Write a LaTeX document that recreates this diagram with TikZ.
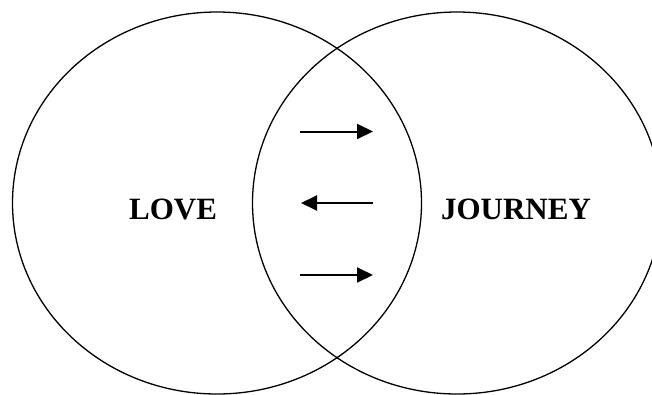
\documentclass[tikz,border=0pt]{standalone}
\usepackage{fontspec}
\setmainfont{Liberation Serif}
\usetikzlibrary{shapes.geometric,arrows.meta}
\tikzset{
  circ/.style={draw, ellipse, line width=1.3pt, minimum width=409pt, minimum height=382pt, inner sep=0pt},
  lbl/.style={font=\fontsize{31}{31}\selectfont\bfseries, inner sep=0pt},
  arr/.style={line width=2pt, -{Triangle[length=16pt,width=15pt]}}
}
\begin{document}
\begin{tikzpicture}[x=1pt,y=-1pt]
\useasboundingbox (0,0) rectangle (652,394);
\clip (0,0) rectangle (652,394);
\node[circ] (love) at (217,203) {};
\node[circ] (journey) at (457,203) {};
\node[lbl] (lovetext) at (173,209) {LOVE};
\node[lbl] (journeytext) at (516,209) {JOURNEY};
\coordinate (a1s) at (300,131.5);
\coordinate (a1e) at (373,131.5);
\coordinate (a2s) at (373,203);
\coordinate (a2e) at (301,203);
\coordinate (a3s) at (300,275);
\coordinate (a3e) at (373,275);
\draw[arr] (a1s) -- (a1e);
\draw[arr] (a2s) -- (a2e);
\draw[arr] (a3s) -- (a3e);
\end{tikzpicture}
\end{document}
